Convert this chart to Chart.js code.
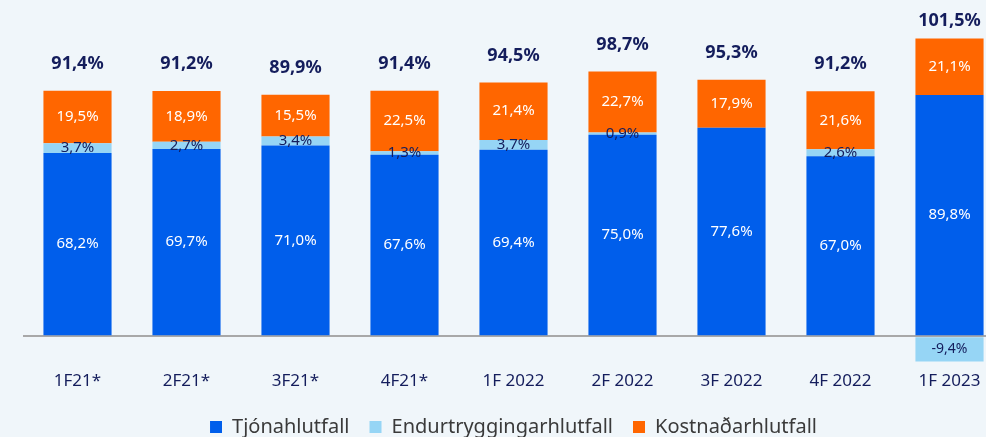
<!DOCTYPE html>
<html>
<head>
<meta charset="utf-8">
<script src="https://cdn.jsdelivr.net/npm/chart.js@4.4.1/dist/chart.umd.min.js"></script>
<style>
  html, body { margin: 0; padding: 0; background: #f0f6fa; overflow: hidden; }
  canvas { display: block; }
</style>
</head>
<body>
<canvas id="chart" width="1004" height="447"></canvas>
<script>
const categories = ['1F21*', '2F21*', '3F21*', '4F21*', '1F 2022', '2F 2022', '3F 2022', '4F 2022', '1F 2023'];
const tjon = [68.2, 69.7, 71.0, 67.6, 69.4, 75.0, 77.6, 67.0, 89.8];
const endurt = [3.7, 2.7, 3.4, 1.3, 3.7, 0.9, 0, 2.6, -9.4];
const kostn = [19.5, 18.9, 15.5, 22.5, 21.4, 22.7, 17.9, 21.6, 21.1];
const totals = [91.4, 91.2, 89.9, 91.4, 94.5, 98.7, 95.3, 91.2, 101.5];

const fmt = v => v.toFixed(1).replace('.', ',') + '%';
const NAVY = '#141d5c';
const FONT = '"Noto Sans", sans-serif';

// labels inside the bars and totals above
const labelPlugin = {
  id: 'barLabels',
  afterDatasetsDraw(chart) {
    const ctx = chart.ctx;
    ctx.save();
    ctx.textAlign = 'center';
    ctx.textBaseline = 'middle';
    chart.data.datasets.forEach((ds, di) => {
      const meta = chart.getDatasetMeta(di);
      meta.data.forEach((bar, i) => {
        const v = ds.data[i];
        if (!v) return;
        const y = (bar.y + bar.base) / 2;
        ctx.fillStyle = di === 1 ? NAVY : '#ffffff';
        ctx.font = (v < 0 ? '14px ' : '15px ') + FONT;
        ctx.fillText(fmt(v), bar.x, y);
      });
    });
    const last = chart.getDatasetMeta(2);
    ctx.fillStyle = NAVY;
    ctx.font = 'bold 18px ' + FONT;
    totals.forEach((t, i) => {
      const top = Math.min(last.data[i].y, last.data[i].base);
      const y = Math.max(top - 27, 21);
      ctx.fillText(fmt(t), last.data[i].x, y);
    });
    ctx.restore();
  }
};

new Chart(document.getElementById('chart'), {
  type: 'bar',
  data: {
    labels: categories,
    datasets: [
      { label: 'Tjónahlutfall', data: tjon, backgroundColor: '#005eeb' },
      { label: 'Endurtryggingarhlutfall', data: endurt, backgroundColor: '#96d5f5' },
      { label: 'Kostnaðarhlutfall', data: kostn, backgroundColor: '#ff6600' }
    ]
  },
  options: {
    responsive: false,
    animation: false,
    layout: { padding: { left: 23, right: 0, top: 14, bottom: 0 } },
    datasets: { bar: { categoryPercentage: 1, barPercentage: 0.625 } },
    scales: {
      x: {
        stacked: true,
        grid: { display: false, drawTicks: false },
        border: { display: false },
        ticks: { color: NAVY, font: { family: FONT, size: 17 }, padding: 8 },
        afterFit: s => { s.height = 34; }
      },
      y: {
        stacked: true,
        min: -10,
        max: 120,
        grid: {
          drawTicks: false,
          color: c => c.tick.value === 0 ? '#a8a8a8' : 'rgba(0,0,0,0)',
          lineWidth: 2
        },
        border: { display: false },
        ticks: { display: false, stepSize: 10 }
      }
    },
    plugins: {
      legend: {
        position: 'bottom',
        labels: {
          color: '#3a3a3a',
          font: { family: FONT, size: 20 },
          boxWidth: 12,
          boxHeight: 12,
          padding: 20
        }
      },
      tooltip: { enabled: false }
    }
  },
  plugins: [labelPlugin]
});
</script>
</body>
</html>
